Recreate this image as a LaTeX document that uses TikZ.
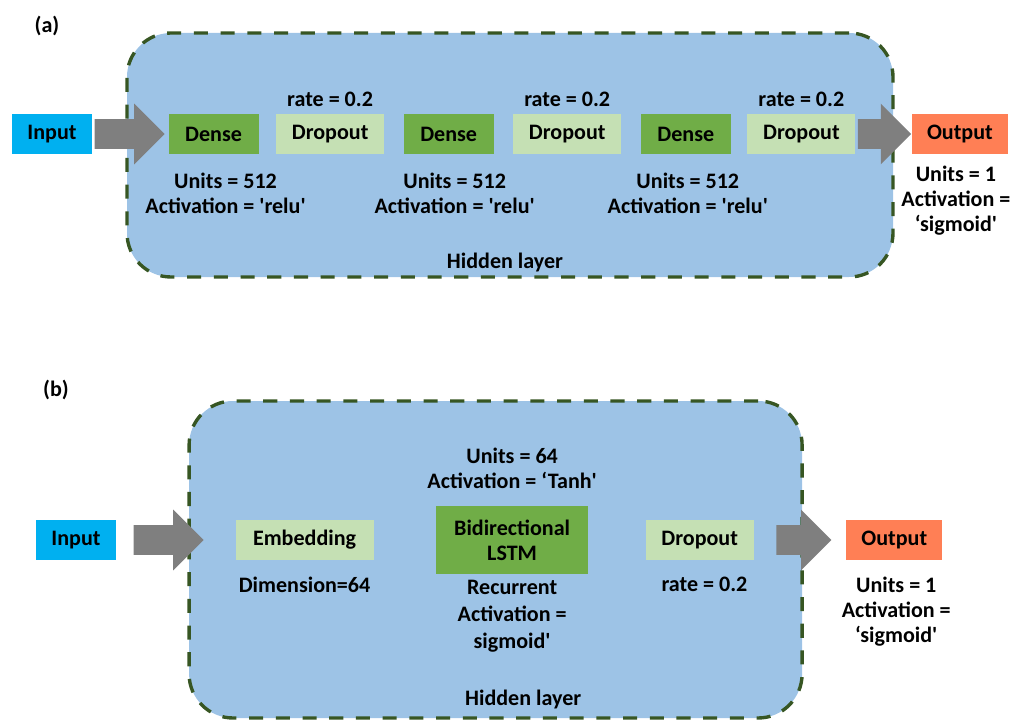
\documentclass[tikz,border=0pt]{standalone}
\usepackage{fontspec}
\setmainfont{Carlito}
\usepackage{tikz}
\usetikzlibrary{positioning}
\usetikzlibrary{shapes.arrows}
\definecolor{layerblue}{HTML}{9DC3E6}
\definecolor{layerline}{HTML}{375623}
\definecolor{inblue}{HTML}{00B0F0}
\definecolor{densegreen}{HTML}{70AD47}
\definecolor{dropgreen}{HTML}{C5E0B4}
\definecolor{outorange}{HTML}{FF7F55}
\definecolor{arrowgray}{HTML}{7F7F7F}
\tikzstyle{hiddenbox} = [rectangle, rounded corners=1.1cm, draw=layerline, line width=2.4pt, dash pattern=on 10pt off 9pt, fill=layerblue]
\tikzstyle{inbox} = [rectangle, minimum width=2cm, minimum height=1cm, text centered, fill=inblue]
\tikzstyle{densebox} = [rectangle, minimum width=2.25cm, minimum height=1cm, text centered, fill=densegreen]
\tikzstyle{dropbox} = [rectangle, minimum width=2.7cm, minimum height=1cm, text centered, fill=dropgreen]
\tikzstyle{outbox} = [rectangle, minimum width=2.4cm, minimum height=1cm, text centered, fill=outorange]
\tikzstyle{blockarrow} = [single arrow, fill=arrowgray, inner xsep=0pt, inner ysep=0.3625cm, single arrow head extend=0.39cm, pos=0, anchor=tail]
\tikzstyle{lbl} = [inner sep=0pt, align=center]

\begin{document}
\begin{tikzpicture}[font=\bfseries\fontsize{15.7}{17.8}\selectfont]
\useasboundingbox (0,0) rectangle (25.4,18);

% (a)
\node(tagA) at (1.175,17.35) {(a)};
\node(layerA)[hiddenbox, minimum width=19.15cm, minimum height=6.1cm] at (12.75,14.125) {};
\node(inA)[inbox] at (1.3,14.65) {Input};
\node(denseA1)[densebox, right=1.9cm of inA] {Dense};
\node(dropA1)[dropbox, right=0.425cm of denseA1] {Dropout};
\node(denseA2)[densebox, right=0.475cm of dropA1] {Dense};
\node(dropA2)[dropbox, right=0.475cm of denseA2] {Dropout};
\node(denseA3)[densebox, right=0.475cm of dropA2] {Dense};
\node(dropA3)[dropbox, right=0.4cm of denseA3] {Dropout};
\node(outA)[outbox, right=1.4cm of dropA3] {Output};

\node(rateA1)[lbl, above=0.16cm of dropA1] {rate = 0.2};
\node(rateA2)[lbl, above=0.16cm of dropA2] {rate = 0.2};
\node(rateA3)[lbl, above=0.16cm of dropA3] {rate = 0.2};
\node(unitsA1)[lbl, below=0.45cm of denseA1, xshift=0.3cm] {Units = 512\\Activation = \textquotesingle relu\textquotesingle};
\node(unitsA2)[lbl, below=0.45cm of denseA2, xshift=0.15cm] {Units = 512\\Activation = \textquotesingle relu\textquotesingle};
\node(unitsA3)[lbl, below=0.45cm of denseA3, xshift=0.05cm] {Units = 512\\Activation = \textquotesingle relu\textquotesingle};
\node(unitsOutA)[lbl, below=0.29cm of outA, xshift=-0.1cm] {Units = 1\\Activation =\\`sigmoid\textquotesingle};
\node(hidA)[lbl, above=0.15cm of layerA.south, xshift=-0.125cm] {Hidden layer};

\path (inA) -- (denseA1) node[blockarrow, xshift=0.05cm, minimum height=1.75cm] {};
\path (dropA3) -- (outA) node[blockarrow, xshift=0.05cm, minimum height=1.33cm] {};

% (b)
\node(tagB) at (1.4,8.25) {(b)};
\node(layerB)[hiddenbox, minimum width=15.325cm, minimum height=7.925cm] at (12.39,4.0125) {};
\node(inB)[inbox] at (1.9,4.5) {Input};
\node(embB)[dropbox, minimum width=3.45cm, right=2.975cm of inB] {Embedding};
\node(lstmB)[densebox, minimum width=3.8cm, minimum height=1.7cm, align=center, right=1.55cm of embB] {Bidirectional\\LSTM};
\node(dropB)[dropbox, right=1.425cm of lstmB] {Dropout};
\node(outB)[outbox, right=2.3cm of dropB] {Output};

\node(dimB)[lbl, below=0.4cm of embB] {Dimension=64};
\node(unitsB)[lbl, above=0.42cm of lstmB] {Units = 64\\Activation = `Tanh\textquotesingle};
\node(recB)[lbl, below=0.15cm of lstmB] {Recurrent\\[1.2pt]Activation =\\[1.2pt]sigmoid\textquotesingle};
\node(rateB)[lbl, below=0.4cm of dropB, xshift=0.12cm] {rate = 0.2};
\node(unitsOutB)[lbl, below=0.4cm of outB, xshift=0.05cm] {Units = 1\\Activation =\\`sigmoid\textquotesingle};
\node(hidB)[lbl, above=0.25cm of layerB.south, xshift=0.69cm] {Hidden layer};

\path (inB) -- (embB) node[blockarrow, xshift=0.425cm, minimum height=1.75cm] {};
\path (dropB) -- (outB) node[blockarrow, xshift=0.55cm, minimum height=1.38cm] {};

\end{tikzpicture}
\end{document}
